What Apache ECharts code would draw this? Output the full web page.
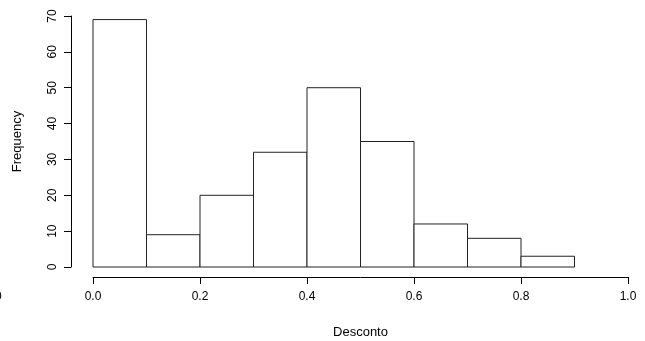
<!DOCTYPE html>
<html>
<head>
<meta charset="utf-8">
<script src="https://cdn.jsdelivr.net/npm/echarts@6/dist/echarts.min.js"></script>
<style>
    html, body { margin: 0; padding: 0; background: #fff; }
    #container { width: 645px; height: 341px; }
</style>
</head>
<body>
<div id="container"></div>
<script>
// histogram bins (Desconto) and counts
var binStart = [0.0, 0.1, 0.2, 0.3, 0.4, 0.5, 0.6, 0.7, 0.8];
var binEnd = [0.1, 0.2, 0.3, 0.4, 0.5, 0.6, 0.7, 0.8, 0.9];
var counts = [69, 9, 20, 32, 50, 35, 12, 8, 3];
var xTicks = [0.0, 0.2, 0.4, 0.6, 0.8, 1.0];
var yTicks = [0, 10, 20, 30, 40, 50, 60, 70];

var histData = [];
for (var i = 0; i < counts.length; i++) {
    histData.push([binStart[i], binEnd[i], counts[i]]);
}

var myChart = echarts.init(document.getElementById('container'));
var labelFont = 'Liberation Sans, Arial, sans-serif';
var option = {
    animation: false,
    backgroundColor: '#fff',
    grid: {
        left: 93,
        right: 17,
        top: 16,
        bottom: 74,
        outerBoundsMode: 'none'
    },
    xAxis: {
        type: 'value',
        min: xTicks[0],
        max: xTicks[xTicks.length - 1],
        interval: 0.2,
        offset: 10,
        name: 'Desconto',
        nameLocation: 'middle',
        nameGap: 49,
        nameTextStyle: { color: '#000', fontSize: 13, fontFamily: labelFont },
        splitLine: { show: false },
        axisLine: { show: true, onZero: false, lineStyle: { color: '#000', width: 1 } },
        axisTick: { show: true, length: 7, lineStyle: { color: '#000' } },
        axisLabel: {
            color: '#000', fontSize: 12, fontFamily: labelFont, margin: 14,
            formatter: function (v) { return v.toFixed(1); }
        }
    },
    yAxis: {
        type: 'value',
        min: yTicks[0],
        max: yTicks[yTicks.length - 1],
        interval: 10,
        offset: 22,
        name: 'Frequency',
        nameLocation: 'middle',
        nameGap: 47,
        nameRotate: 90,
        nameTextStyle: { color: '#000', fontSize: 13, fontFamily: labelFont },
        splitLine: { show: false },
        axisLine: { show: true, onZero: false, lineStyle: { color: '#000', width: 1 } },
        axisTick: { show: true, length: 7, lineStyle: { color: '#000' } },
        axisLabel: {
            color: '#000', fontSize: 12, fontFamily: labelFont, rotate: 90, margin: 12
        }
    },
    graphic: [{
        type: 'text',
        left: -5,
        top: 291,
        style: { text: '0', fill: '#000', font: '12px ' + labelFont }
    }],
    series: [{
        type: 'custom',
        data: histData,
        renderItem: function (params, api) {
            var p0 = api.coord([api.value(0), api.value(2)]);
            var p1 = api.coord([api.value(1), 0]);
            return {
                type: 'rect',
                shape: { x: p0[0], y: p0[1], width: p1[0] - p0[0], height: p1[1] - p0[1] },
                style: { fill: '#fff', stroke: '#222', lineWidth: 1 }
            };
        }
    }]
};
myChart.setOption(option);
</script>
</body>
</html>
